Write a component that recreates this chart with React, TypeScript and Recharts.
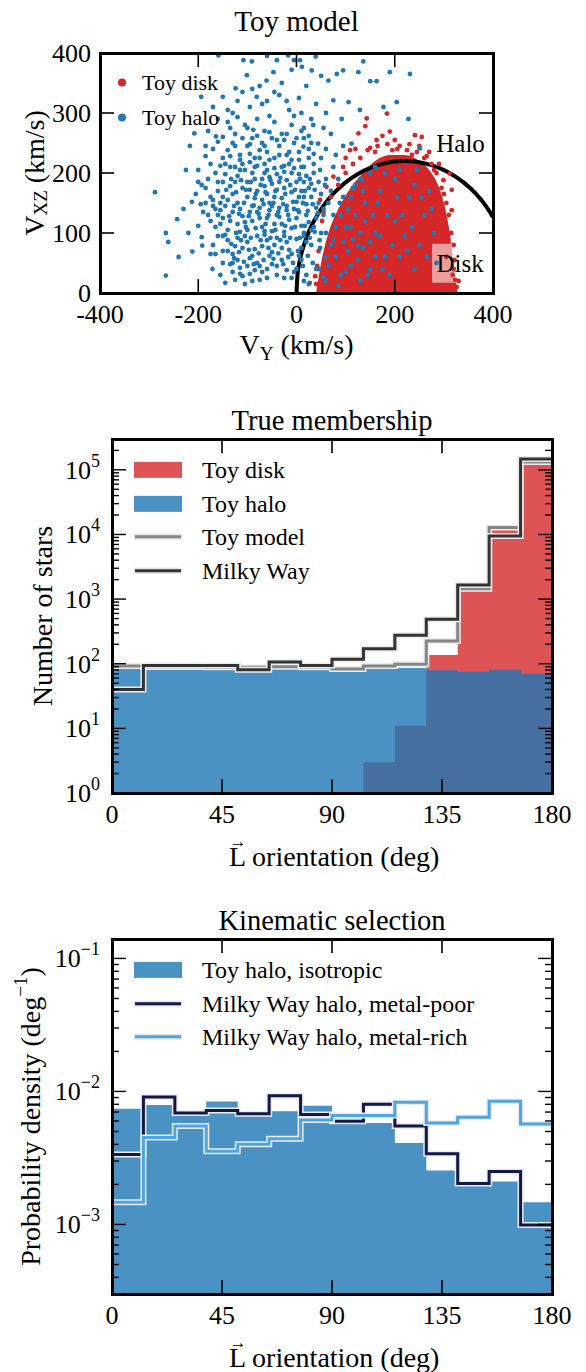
import React from 'react';
import {
  ComposedChart, Area, Line, Scatter, XAxis, YAxis, Legend, ReferenceArea
} from 'recharts';

const FONT = 'Liberation Serif';

// ---------- Toy model scatter: [V_Y, V_XZ] in km/s ----------
const haloPoints: [number, number][] = [
  [-108, 388], [-91, 386], [-40, 388], [-17, 396], [-5, 388], [7, 388], [39, 394], [136, 386], [-159, 396], [-60, 395],
  [-124, 341], [-101, 363], [-61, 354], [-47, 368], [11, 377], [31, 371], [65, 354], [82, 365], [95, 371], [126, 368],
  [150, 353], [163, 353], [190, 368], [231, 365], [-30, 350], [-75, 345], [20, 345], [50, 362], [-10, 372],
  [-194, 327], [-150, 327], [-81, 327], [75, 321], [106, 318], [129, 305], [177, 310], [204, 318], [-120, 320], [-95, 310],
  [-60, 320], [-35, 330], [-15, 305], [5, 325], [40, 315], [-140, 305], [-170, 310], [-110, 335], [60, 300],
  [-208, 266], [-164, 261], [-120, 293], [92, 290], [34, 280], [228, 290], [-140, 285], [-100, 275], [-80, 290], [-65, 270],
  [-45, 285], [-30, 265], [-10, 280], [10, 270], [25, 262], [55, 275], [-180, 270], [-125, 265], [-55, 295], [-5, 295], [70, 265],
  [-217, 245], [14, 244], [44, 249], [112, 249], [251, 241], [-170, 240], [-150, 225], [-130, 250], [-115, 230], [-100, 245],
  [-85, 225], [-70, 250], [-60, 235], [-45, 225], [-35, 245], [-20, 230], [-5, 250], [5, 235], [25, 225], [60, 240], [80, 230],
  [-185, 228], [-140, 238], [-90, 258], [-25, 255], [-75, 238], [-50, 258], [35, 232], [95, 245], [-160, 252], [-10, 222], [15, 258],
  [-193, 180], [48, 205], [133, 188], [-165, 200], [-150, 185], [-135, 210], [-120, 195], [-110, 215], [-100, 185], [-90, 200],
  [-80, 212], [-70, 190], [-60, 205], [-50, 182], [-40, 198], [-30, 210], [-20, 188], [-10, 200], [0, 185], [10, 210], [20, 195],
  [30, 182], [-175, 215], [-145, 198], [-125, 185], [-115, 205], [-95, 218], [-85, 190], [-65, 215], [-55, 193], [-35, 185],
  [-25, 202], [-15, 215], [5, 198], [15, 185], [35, 200], [60, 190], [75, 210], [-200, 205], [-155, 212],
  [-288, 168], [-213, 152], [-195, 148], [-175, 160], [-160, 170], [-145, 145], [-130, 165], [-120, 150], [-110, 175], [-100, 160],
  [-90, 145], [-80, 170], [-70, 155], [-60, 165], [-50, 145], [-40, 172], [-30, 158], [-20, 145], [-10, 168], [0, 152], [10, 170],
  [20, 148], [30, 160], [40, 142], [-185, 175], [-155, 150], [-135, 178], [-115, 140], [-95, 172], [-75, 142], [-65, 178],
  [-45, 160], [-25, 175], [-5, 140], [15, 160], [25, 175], [-205, 165], [-170, 145], [50, 165], [-140, 155], [-85, 158],
  [-55, 150], [-35, 142], [5, 160],
  [-243, 123], [-266, 100], [-180, 130], [-165, 110], [-150, 125], [-140, 105], [-130, 135], [-120, 115], [-110, 128], [-100, 105],
  [-90, 120], [-80, 135], [-70, 110], [-60, 125], [-50, 103], [-40, 130], [-30, 115], [-20, 138], [-10, 108], [0, 125], [10, 112],
  [20, 130], [30, 105], [-175, 120], [-155, 138], [-135, 120], [-115, 102], [-95, 135], [-75, 125], [-55, 138], [-45, 115],
  [-25, 102], [-15, 122], [5, 135], [15, 100], [-200, 112], [-190, 135], [-105, 118], [-65, 103], [-35, 127], [25, 118], [40, 125],
  [-261, 85], [-212, 69], [-193, 93], [-192, 79], [-170, 80], [-160, 95], [-150, 70], [-140, 88], [-130, 65], [-120, 92],
  [-110, 75], [-100, 85], [-90, 62], [-80, 95], [-70, 78], [-60, 88], [-50, 68], [-40, 92], [-30, 75], [-20, 85], [-10, 65],
  [0, 90], [10, 75], [20, 85], [-145, 97], [-125, 78], [-105, 95], [-85, 73], [-65, 97], [-45, 80], [-25, 95], [-15, 72],
  [5, 62], [-175, 65], [15, 95], [-55, 62],
  [-266, 29], [-171, 40], [-145, 17], [-150, 50], [-130, 35], [-120, 55], [-110, 28], [-100, 45], [-90, 20], [-80, 50],
  [-70, 35], [-60, 25], [-50, 48], [-40, 30], [-30, 55], [-20, 38], [-10, 25], [-115, 42], [-95, 58], [-75, 22], [-105, 15],
  [-85, 38], [-125, 22], [-135, 48], [0, 40], [10, 55], [20, 30], [-155, 30], [30, 80], [40, 40], [25, 15],
  // denser core
  [-127, 58], [-117, 68], [-107, 52], [-97, 72], [-87, 48], [-77, 66], [-67, 55], [-57, 75], [-47, 57], [-37, 66], [-27, 48],
  [-17, 60], [-7, 50], [3, 70], [13, 45], [23, 62], [33, 50],
  [-133, 82], [-123, 100], [-113, 88], [-103, 110], [-93, 92], [-83, 108], [-73, 88], [-63, 115], [-53, 92], [-43, 105],
  [-33, 88], [-23, 112], [-13, 92], [-3, 110], [7, 92], [17, 112], [27, 92], [37, 102], [47, 88],
  [-137, 128], [-127, 145], [-117, 132], [-107, 150], [-97, 128], [-87, 146], [-77, 132], [-67, 148], [-57, 130], [-47, 150],
  [-37, 135], [-27, 148], [-17, 130], [-7, 152], [3, 138], [13, 150], [23, 137], [33, 148], [43, 133], [55, 140],
  [-143, 172], [-133, 190], [-123, 168], [-113, 188], [-103, 172], [-93, 185], [-83, 165], [-73, 180], [-63, 168], [-53, 188],
  [-43, 170], [-33, 192], [-23, 165], [-13, 180], [-3, 172], [7, 190], [17, 170], [27, 190], [37, 172], [45, 185],
  [-145, 215], [-135, 228], [-125, 210], [-115, 222], [-105, 205], [-95, 232], [-85, 210], [-75, 225], [-65, 200], [-55, 222],
  [-45, 208], [-35, 230], [-25, 212], [-15, 235], [-5, 208], [5, 222], [15, 210], [25, 240], [35, 215], [50, 225],
  [-125, 245], [-110, 258], [-95, 248], [-80, 262], [-65, 245], [-55, 268], [-40, 255], [-20, 265], [0, 258], [15, 275],
  [30, 250], [-150, 260], [-135, 275], [-105, 280], [-88, 272],
  [-160, 130], [-170, 155], [-150, 160], [-160, 185], [-180, 190], [-165, 140], [-155, 115], [-185, 150], [-140, 70], [-150, 95],
  [-165, 65], [-130, 50], [-115, 32], [-95, 32], [-75, 45], [-60, 40], [-40, 45], [-25, 25], [-5, 35], [15, 20],
  [-45, 335], [-20, 320], [-70, 315], [-130, 300], [-90, 340], [10, 300], [30, 290], [-160, 290], [-185, 245], [-200, 185],
  [-225, 205], [-230, 140], [-220, 100], [-240, 60],
  // halo stars on top of the disk cloud
  [75, 89], [126, 78], [60, 60], [90, 130], [110, 110], [140, 150], [170, 170], [200, 120], [220, 95], [250, 80], [180, 60],
  [150, 40], [100, 35], [120, 180], [160, 210], [200, 190], [230, 160], [260, 130], [280, 100], [70, 170], [85, 190],
  [45, 150], [35, 110], [50, 100], [160, 100], [190, 30], [240, 40], [130, 20], [210, 60], [270, 170], [105, 70], [150, 200],
  [60, 20], [85, 12], [110, 160], [245, 205],
  [45, 40], [55, 25], [65, 45], [70, 80], [80, 60], [90, 30], [95, 85], [100, 110], [110, 45], [115, 90], [120, 130], [125, 55],
  [130, 100], [135, 75], [140, 120], [145, 30], [150, 85], [155, 130], [160, 60], [165, 150], [170, 95], [175, 40], [185, 130],
  [195, 80], [205, 160], [215, 130], [225, 70], [235, 110], [255, 160], [265, 60], [275, 140], [285, 50], [55, 130], [65, 150],
  [80, 110], [95, 160], [105, 140], [115, 175], [135, 170], [60, 100], [75, 130], [88, 150], [48, 75], [58, 180], [130, 190],
  [180, 200], [210, 205], [240, 180],
];

const diskOutlierPoints: [number, number][] = [
  [143, 291], [184, 299], [126, 266], [163, 255], [190, 269], [241, 263], [255, 260], [109, 238], [75, 194], [61, 177],
  [312, 199], [316, 138], [316, 172], [309, 89], [323, 22], [299, 188], [48, 155], [38, 28], [27, 17], [140, 278],
  [175, 262], [150, 242], [210, 245], [270, 235], [290, 215], [300, 120], [305, 60], [320, 40], [45, 70], [52, 120],
  [100, 225], [120, 240], [200, 255], [230, 248], [265, 228], [40, 15], [330, 20], [95, 210],
  [55, 135], [70, 160], [85, 180], [100, 200], [115, 215], [130, 225], [145, 238], [165, 245], [185, 248], [205, 240],
  [225, 238], [245, 235], [260, 225], [275, 215], [285, 200], [295, 175], [305, 150], [310, 130], [315, 100], [320, 80],
  [322, 55], [318, 30], [326, 10], [42, 45], [48, 10], [58, 40], [160, 235], [195, 238], [235, 230], [250, 245], [280, 205],
  [300, 165],
];

// upper edge of the dense red disk cloud
const diskEdgeVy = [40, 50, 65, 85, 110, 135, 160, 190, 220, 250, 270, 288, 300, 310, 318, 324, 328];
const diskEdgeVxz = [0, 50, 100, 140, 175, 200, 220, 230, 230, 220, 205, 180, 150, 110, 60, 20, 0];

// halo / disk dividing arc
const arcVy = [0, 2, 6, 12, 20, 30, 45, 60, 80, 100, 125, 150, 175, 200, 220, 240, 265, 290, 315, 340, 365, 385, 400];
const arcVxz = [0, 29.6, 51, 71.7, 91.7, 110.9, 133.3, 151, 169.7, 184.4, 198.4, 208.6, 215.3, 219.1, 220, 219.1, 215.3, 208.6, 198.4, 184.4, 165.5, 145.5, 126.5];

// ---------- histograms over L orientation (deg), 14 bins ----------
const binEdges = [0, 12.857, 25.714, 38.571, 51.429, 64.286, 77.143, 90, 102.857, 115.714, 128.571, 141.429, 154.286, 167.143, 180];

const toyDisk: (number | null)[] = [null, null, null, null, null, null, null, null, 3, 11, 136, 1500, 11700, 130000];
const toyHalo = [86, 86, 86, 86, 75, 85, 85, 83, 86, 86, 79, 75, 81, 70];
const toyModel = [92, 89, 89, 88, 88, 90, 88, 83, 92, 98, 225, 1440, 12800, 132000];
const milkyWay = [40, 94, 94, 94, 81, 106, 94, 117, 170, 275, 490, 1660, 9500, 147000];

const toyHaloIso = [7.4e-3, 7.9e-3, 6.7e-3, 8.4e-3, 6.7e-3, 7.1e-3, 7.8e-3, 6.3e-3, 5.8e-3, 4.1e-3, 2.55e-3, 2.1e-3, 2.1e-3, 1.47e-3];
const mwMetalPoor = [3.35e-3, 9.1e-3, 6.9e-3, 7.2e-3, 6.8e-3, 9.3e-3, 6.7e-3, 5.97e-3, 8.0e-3, 5.5e-3, 3.4e-3, 2.03e-3, 2.5e-3, 9.9e-4];
const mwMetalRich = [1.47e-3, 4.5e-3, 5.5e-3, 3.55e-3, 4.0e-3, 4.4e-3, 6.1e-3, 6.6e-3, 6.6e-3, 8.3e-3, 5.8e-3, 6.4e-3, 8.45e-3, 5.7e-3];

const angleTicks = [0, 45, 90, 135, 180];
const starDecades = [1, 10, 100, 1000, 10000, 100000];
const densityDecades = [1e-4, 1e-3, 1e-2, 1e-1];

// ---------- derived tables ----------
const toPts = (arr: [number, number][]) => arr.map(([vy, vxz]) => ({ vy, vxz }));
const haloData = toPts(haloPoints);
const diskOutliers = toPts(diskOutlierPoints);
const diskEdge = diskEdgeVy.map((vy, i) => ({ vy, vxz: diskEdgeVxz[i] }));
const arc = arcVy.map((vy, i) => ({ vy, vxz: arcVxz[i] }));

const overlap = toyDisk.map((d, i) => (d == null ? null : Math.min(d, toyHalo[i])));

// step rows: one per bin edge, the last edge repeats the last bin
const stepRows = (series: Record<string, (number | null)[]>) =>
  binEdges.map((edge, i) => {
    const row: Record<string, number | null> = { angle: edge };
    Object.keys(series).forEach((k) => {
      row[k] = series[k][Math.min(i, series[k].length - 1)];
    });
    return row;
  });

const membershipRows = stepRows({ toyDisk, toyHalo, overlap, toyModel, milkyWay });
const kinematicRows = stepRows({ toyHaloIso, mwMetalPoor, mwMetalRich });

const logTicks = (decades: number[], lo: number, hi: number) => {
  const out: number[] = [];
  decades.forEach((d) => {
    [1, 2, 3, 4, 5, 6, 7, 8, 9].forEach((m) => {
      const v = +(d * m).toPrecision(3);
      if (v >= lo * 0.999 && v <= hi * 1.001) out.push(v);
    });
  });
  return out;
};

// ---------- tick renderers (inward ticks on all four sides) ----------
const xTick = (plotH: number) => (p: any) => {
  const { x, y, payload } = p;
  return (
    <g>
      <line x1={x} y1={y} x2={x} y2={y - 14} stroke="#000" strokeWidth={1.6} />
      <line x1={x} y1={y - plotH} x2={x} y2={y - plotH + 14} stroke="#000" strokeWidth={1.6} />
      <text x={x} y={y + 30} textAnchor="middle" fontSize={26} fontFamily={FONT} fill="#000">
        {String(payload.value)}
      </text>
    </g>
  );
};

const linYTick = (plotW: number) => (p: any) => {
  const { x, y, payload } = p;
  return (
    <g>
      <line x1={x} y1={y} x2={x + 14} y2={y} stroke="#000" strokeWidth={1.6} />
      <line x1={x + plotW} y1={y} x2={x + plotW - 14} y2={y} stroke="#000" strokeWidth={1.6} />
      <text x={x - 9} y={y + 9} textAnchor="end" fontSize={26} fontFamily={FONT} fill="#000">
        {String(payload.value)}
      </text>
    </g>
  );
};

const logYTick = (plotW: number) => (p: any) => {
  const { x, y, payload } = p;
  const lg = Math.log10(payload.value);
  const e = Math.round(lg);
  const major = Math.abs(lg - e) < 1e-6;
  const len = major ? 14 : 7;
  return (
    <g>
      <line x1={x} y1={y} x2={x + len} y2={y} stroke="#000" strokeWidth={1.4} />
      <line x1={x + plotW} y1={y} x2={x + plotW - len} y2={y} stroke="#000" strokeWidth={1.4} />
      {major && (
        <text x={x - 12} y={y + 9} textAnchor="end" fontSize={26} fontFamily={FONT} fill="#000">
          <tspan>10</tspan>
          <tspan dy={-12} fontSize={18}>{e < 0 ? '\u2212' + -e : String(e)}</tspan>
        </text>
      )}
    </g>
  );
};

// ---------- axis titles ----------
const YTitle = ({ viewBox, cx, children }: any) => {
  const cy = viewBox.y + viewBox.height / 2;
  return (
    <text x={cx} y={cy} transform={`rotate(-90, ${cx}, ${cy})`} textAnchor="middle"
      dominantBaseline="central" fontSize={28} fontFamily={FONT} fill="#000">
      {children}
    </text>
  );
};

const VyTitle = ({ viewBox }: any) => (
  <text x={viewBox.x + viewBox.width / 2} y={viewBox.y + 61} textAnchor="middle" fontSize={28} fontFamily={FONT} fill="#000">
    <tspan>V</tspan>
    <tspan dy={6} fontSize={19}>Y</tspan>
    <tspan dy={-6}> (km/s)</tspan>
  </text>
);

const AngleTitle = ({ viewBox }: any) => {
  const start = viewBox.x + viewBox.width / 2 - 103;
  const base = viewBox.y + 73;
  return (
    <g>
      <text x={start + 9} y={base - 19} textAnchor="middle" fontSize={17} fontFamily={FONT} fill="#000">{'\u2192'}</text>
      <text x={start} y={base} textAnchor="start" fontSize={28} fontFamily={FONT} fill="#000">L orientation (deg)</text>
    </g>
  );
};

// ---------- legend ----------
type Row = { kind: 'dot' | 'patch' | 'line'; color: string; label: string };
const LegendBox = ({ rows, fontSize, rowH, swW, gap }: { rows: Row[]; fontSize: number; rowH: number; swW: number; gap: number }) => (
  <div style={{ fontFamily: FONT, fontSize, color: '#000' }}>
    {rows.map((r) => (
      <div key={r.label} style={{ display: 'flex', alignItems: 'center', height: rowH, whiteSpace: 'nowrap' }}>
        <svg width={swW} height={rowH} style={{ display: 'block' }}>
          {r.kind === 'dot' && <circle cx={swW / 2} cy={rowH / 2} r={4} fill={r.color} />}
          {r.kind === 'patch' && <rect x={0} y={rowH / 2 - 8} width={swW} height={16} fill={r.color} />}
          {r.kind === 'line' && (
            <g>
              <line x1={0} y1={rowH / 2} x2={swW} y2={rowH / 2} stroke="#e6e6e6" strokeWidth={6} />
              <line x1={1} y1={rowH / 2} x2={swW - 1} y2={rowH / 2} stroke={r.color} strokeWidth={3} />
            </g>
          )}
        </svg>
        <span style={{ marginLeft: gap, lineHeight: 1 }}>{r.label}</span>
      </div>
    ))}
  </div>
);

const Frame = ({ l, t, w, h }: { l: number; t: number; w: number; h: number }) => (
  <div style={{
    position: 'absolute', left: l - 1.5, top: t - 1.5, width: w + 3, height: h + 3,
    border: '3px solid #000', boxSizing: 'border-box', pointerEvents: 'none',
  }} />
);

const axisCommon = { tickSize: 0, tickMargin: 0, axisLine: false, tickLine: false, interval: 0 as const, allowDataOverflow: true };

const dot = (color: string) => (p: any) => <circle cx={p.cx} cy={p.cy} r={2.4} fill={color} />;

const RED = '#d62728';
const BLUE = '#1f77b4';

const ToyModelPanel = () => (
  <div style={{ position: 'absolute', left: 0, top: 0, width: 586, height: 370 }}>
    <ComposedChart width={586} height={370} margin={{ top: 53, right: 93, bottom: 0, left: 0 }}>
      <XAxis type="number" dataKey="vy" domain={[-400, 400]} ticks={[-400, -200, 0, 200, 400]} height={77}
        {...axisCommon} tick={xTick(240)} label={<VyTitle />} />
      <YAxis type="number" dataKey="vxz" domain={[0, 400]} ticks={[0, 100, 200, 300, 400]} width={100}
        {...axisCommon} tick={linYTick(393)}
        label={<YTitle cx={34}><tspan>V</tspan><tspan dy={6} fontSize={19}>XZ</tspan><tspan dy={-6}> (km/s)</tspan></YTitle>} />
      <Area data={diskEdge} dataKey="vxz" type="monotone" fill={RED} fillOpacity={1} stroke="none" baseValue={0} isAnimationActive={false} />
      <Scatter data={diskOutliers} shape={dot(RED)} isAnimationActive={false} />
      <Scatter data={haloData} shape={dot(BLUE)} isAnimationActive={false} />
      <Line data={arc} dataKey="vxz" type="monotone" stroke="#000" strokeWidth={4} dot={false} isAnimationActive={false} />
      <ReferenceArea x1={276} x2={390} y1={17} y2={82} fill="#fff" fillOpacity={0.55} stroke="none" ifOverflow="visible"
        label={{ value: 'Disk', position: 'center', fontSize: 25, fontFamily: FONT, fill: '#000' }} />
      <ReferenceArea x1={290} x2={378} y1={225} y2={275} fill="none" stroke="none" ifOverflow="visible"
        label={{ value: 'Halo', position: 'center', fontSize: 25, fontFamily: FONT, fill: '#000' }} />
      <Legend layout="vertical" align="center" verticalAlign="middle" wrapperStyle={{ left: 117, top: 65, width: 'auto' }}
        content={() => (
          <LegendBox fontSize={22} rowH={35} swW={10} gap={15}
            rows={[{ kind: 'dot', color: RED, label: 'Toy disk' }, { kind: 'dot', color: BLUE, label: 'Toy halo' }]} />
        )} />
      <text x={296.5} y={31} textAnchor="middle" fontSize={29} fontFamily={FONT} fill="#000">Toy model</text>
    </ComposedChart>
    <Frame l={100} t={53} w={393} h={240} />
  </div>
);

const stepLine = (key: string, color: string) => [
  <Line key={key + '-halo'} dataKey={key} type="stepAfter" stroke="#ececec" strokeWidth={6} dot={false} isAnimationActive={false} />,
  <Line key={key} dataKey={key} type="stepAfter" stroke={color} strokeWidth={3} dot={false} isAnimationActive={false} />,
];

const MembershipPanel = () => (
  <div style={{ position: 'absolute', left: 0, top: 400, width: 586, height: 480 }}>
    <ComposedChart width={586} height={480} data={membershipRows} margin={{ top: 39, right: 34, bottom: 0, left: 0 }}>
      <XAxis type="number" dataKey="angle" domain={[0, 180]} ticks={angleTicks} height={87}
        {...axisCommon} tick={xTick(354)} label={<AngleTitle />} />
      <YAxis type="number" scale="log" domain={[1, 3e5]} ticks={logTicks(starDecades, 1, 3e5)} width={112}
        {...axisCommon} tick={logYTick(440)} label={<YTitle cx={42}>Number of stars</YTitle>} />
      <Area dataKey="toyDisk" type="stepAfter" fill="#de5454" fillOpacity={1} stroke="none" baseValue={1} isAnimationActive={false} />
      <Area dataKey="toyHalo" type="stepAfter" fill="#4a91c4" fillOpacity={1} stroke="none" baseValue={1} isAnimationActive={false} />
      <Area dataKey="overlap" type="stepAfter" fill="#456fa0" fillOpacity={1} stroke="none" baseValue={1} isAnimationActive={false} />
      {stepLine('toyModel', '#858585')}
      {stepLine('milkyWay', '#333333')}
      <Legend layout="vertical" align="center" verticalAlign="middle" wrapperStyle={{ left: 134, top: 53, width: 'auto' }}
        content={() => (
          <LegendBox fontSize={24} rowH={33.7} swW={48} gap={20}
            rows={[
              { kind: 'patch', color: '#de5454', label: 'Toy disk' },
              { kind: 'patch', color: '#4a91c4', label: 'Toy halo' },
              { kind: 'line', color: '#858585', label: 'Toy model' },
              { kind: 'line', color: '#333333', label: 'Milky Way' },
            ]} />
        )} />
      <text x={332} y={30} textAnchor="middle" fontSize={28.5} fontFamily={FONT} fill="#000">True membership</text>
    </ComposedChart>
    <Frame l={112} t={39} w={440} h={354} />
  </div>
);

const KinematicPanel = () => (
  <div style={{ position: 'absolute', left: 0, top: 900, width: 586, height: 480 }}>
    <ComposedChart width={586} height={480} data={kinematicRows} margin={{ top: 39, right: 34, bottom: 0, left: 0 }}>
      <XAxis type="number" dataKey="angle" domain={[0, 180]} ticks={angleTicks} height={86}
        {...axisCommon} tick={xTick(355)} label={<AngleTitle />} />
      <YAxis type="number" scale="log" domain={[3e-4, 0.14]} ticks={logTicks(densityDecades, 3e-4, 0.14)} width={112}
        {...axisCommon} tick={logYTick(440)}
        label={<YTitle cx={30}><tspan>Probability density (deg</tspan><tspan dy={-10} fontSize={19}>{'\u22121'}</tspan><tspan dy={10}>)</tspan></YTitle>} />
      <Area dataKey="toyHaloIso" type="stepAfter" fill="#4a91c4" fillOpacity={1} stroke="none" baseValue={3e-4} isAnimationActive={false} />
      {stepLine('mwMetalPoor', '#12194a')}
      {stepLine('mwMetalRich', '#4ba6e2')}
      <Legend layout="vertical" align="center" verticalAlign="middle" wrapperStyle={{ left: 134, top: 53, width: 'auto' }}
        content={() => (
          <LegendBox fontSize={24} rowH={33.7} swW={48} gap={20}
            rows={[
              { kind: 'patch', color: '#4a91c4', label: 'Toy halo, isotropic' },
              { kind: 'line', color: '#12194a', label: 'Milky Way halo, metal-poor' },
              { kind: 'line', color: '#4ba6e2', label: 'Milky Way halo, metal-rich' },
            ]} />
        )} />
      <text x={332} y={30} textAnchor="middle" fontSize={28.5} fontFamily={FONT} fill="#000">Kinematic selection</text>
    </ComposedChart>
    <Frame l={112} t={39} w={440} h={355} />
  </div>
);

export default function App() {
  return (
    <div style={{ position: 'absolute', left: 0, top: 0, width: 586, height: 1372, background: '#fff', overflow: 'hidden' }}>
      <ToyModelPanel />
      <MembershipPanel />
      <KinematicPanel />
    </div>
  );
}
